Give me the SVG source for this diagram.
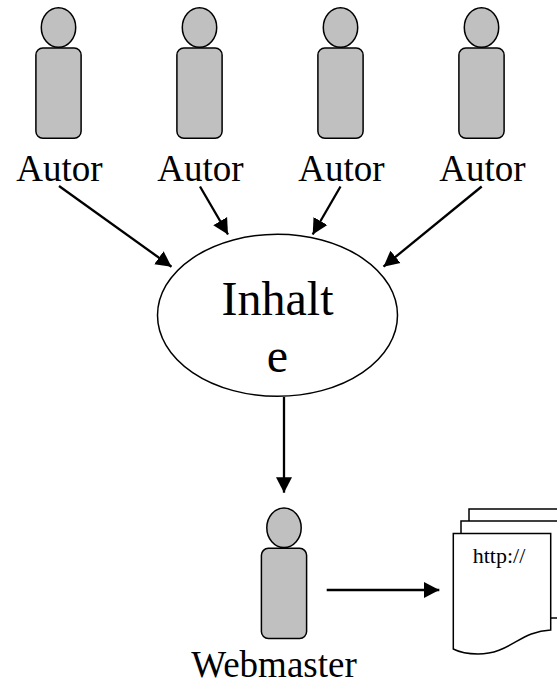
<svg xmlns="http://www.w3.org/2000/svg" width="557" height="685" viewBox="0 0 557 685">
<style>
.s{fill:#c0c0c0;stroke:#000;stroke-width:1.5}
.d{fill:#fff;stroke:#000;stroke-width:1.5}
.c{fill:none;stroke:#000;stroke-width:2.3}
.t{font-family:"Liberation Serif","Times New Roman",serif;fill:#000;text-anchor:middle}
.l{font-size:37px}
</style>
<defs>
<marker id="a" markerUnits="userSpaceOnUse" markerWidth="18" markerHeight="18" refX="15.500" refY="8.500" orient="auto"><path d="M0 0.500L15.500 8.500L0 16.500z" fill="#000"/></marker>
<g id="p"><ellipse cx="0" cy="27.500" rx="17.200" ry="19.800" class="s"/><rect x="-22.600" y="48" width="45.200" height="90.300" rx="7" class="s"/></g>
</defs>
<rect width="557" height="685" fill="#fff"/>
<g id="connectors">
<line x1="59" y1="186" x2="171.500" y2="266.700" class="c" marker-end="url(#a)"/>
<line x1="200" y1="186.500" x2="228" y2="234.500" class="c" marker-end="url(#a)"/>
<line x1="340.500" y1="186.500" x2="312.700" y2="234.500" class="c" marker-end="url(#a)"/>
<line x1="481.700" y1="186.500" x2="383.500" y2="266.700" class="c" marker-end="url(#a)"/>
<line x1="284" y1="397" x2="284" y2="492.700" class="c" marker-end="url(#a)"/>
<line x1="326.700" y1="590" x2="439.300" y2="590" class="c" marker-end="url(#a)"/>
</g>
<g id="autor1"><use href="#p" x="58.500" y="0"/><text class="t l" x="59.500" y="181">Autor</text></g>
<g id="autor2"><use href="#p" x="199.500" y="0"/><text class="t l" x="200.500" y="181">Autor</text></g>
<g id="autor3"><use href="#p" x="340.500" y="0"/><text class="t l" x="341.500" y="181">Autor</text></g>
<g id="autor4"><use href="#p" x="481.500" y="0"/><text class="t l" x="482.500" y="181">Autor</text></g>
<g id="inhalte"><ellipse cx="277.500" cy="315.300" rx="120" ry="81" fill="#fff" stroke="#000" stroke-width="1.500"/>
<text class="t" font-size="48" x="277.500" y="315">Inhalt</text><text class="t" font-size="48" x="277.500" y="372">e</text></g>
<g id="webmaster"><use href="#p" x="284" y="500.300"/><text class="t l" x="274" y="676.500">Webmaster</text></g>
<g id="dokument">
<path d="M469 521V509H557" class="d" fill="none"/>
<path d="M461 533V521H557" class="d" fill="none"/>
<path d="M551 618H557" class="d"/>
<path d="M453.300 533.500H550.700V630C520 631 510 654 478 654C466 654 459 652 453.300 649Z" class="d"/>
<text class="t" font-size="22" x="499" y="563">http://</text>
</g>
</svg>
